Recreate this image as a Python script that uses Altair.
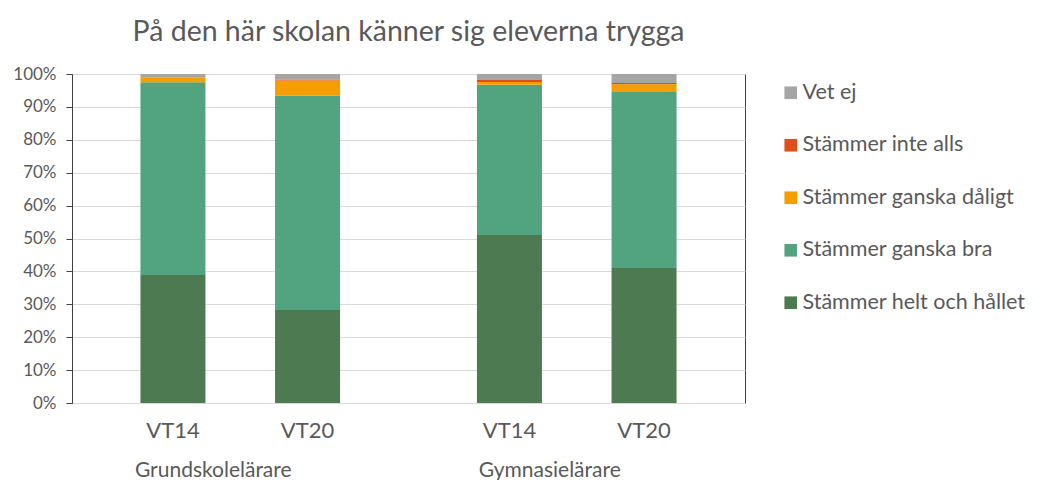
import altair as alt
import pandas as pd

# ---- data ----
responses = ["Stämmer helt och hållet", "Stämmer ganska bra", "Stämmer ganska dåligt",
             "Stämmer inte alls", "Vet ej"]
groups = ["Grundskolelärare", "Grundskolelärare", "Gymnasielärare", "Gymnasielärare"]
years = ["VT14", "VT20", "VT14", "VT20"]
helt = [38.9, 28.3, 51.1, 41.0]
bra = [58.6, 65.1, 45.6, 53.5]
daligt = [1.5, 4.6, 0.9, 2.4]
inte = [0.0, 0.3, 0.6, 0.4]
vetej = [1.0, 1.7, 1.8, 2.7]
colors = ["#4d7a51", "#52a37f", "#f59e00", "#e04f16", "#a5a5a5"]
yticks = [0, 10, 20, 30, 40, 50, 60, 70, 80, 90, 100]

series = [helt, bra, daligt, inte, vetej]
rows = []
for r, (resp, vals) in enumerate(zip(responses, series)):
    for g, y, v in zip(groups, years, vals):
        rows.append({"key": f"{g}|{y}", "svar": resp, "rank": r, "value": v})
df = pd.DataFrame(rows)

group_names = ["Grundskolelärare", "Gymnasielärare"]
gdf = pd.DataFrame({"key": group_names, "label": group_names})

# category slots (spacer slots carry no axis label)
domain = ["_a", "Grundskolelärare|VT14", "Grundskolelärare", "Grundskolelärare|VT20", "_b",
          "_c", "Gymnasielärare|VT14", "Gymnasielärare", "Gymnasielärare|VT20", "_d"]

FONT = "Lato"
GREY = "#595959"
W, H = 673, 329

xscale = alt.Scale(domain=domain, paddingInner=0.034, paddingOuter=0.017)

bars = alt.Chart(df).mark_bar().encode(
    x=alt.X("key:N", scale=xscale, sort=domain,
            axis=alt.Axis(title=None, labelAngle=0, ticks=False, domain=False, grid=False,
                          labelExpr="indexof(datum.value,'|')>0 ? split(datum.value,'|')[1] : ''",
                          labelFontSize=22, labelColor=GREY, labelFont=FONT, labelPadding=17)),
    y=alt.Y("value:Q", stack="zero",
            scale=alt.Scale(domain=[0, 100], nice=False),
            axis=alt.Axis(title=None, values=yticks, labelExpr="datum.value + '%'",
                          labelFontSize=17, labelColor=GREY, labelFont=FONT,
                          tickSize=6, tickColor="#404040", domainColor="#404040",
                          grid=True, gridColor="#d9d9d9", labelPadding=10)),
    color=alt.Color("svar:N",
                    scale=alt.Scale(domain=responses[::-1], range=colors[::-1]),
                    legend=alt.Legend(title=None, orient="none", legendX=708, legendY=8,
                                      symbolType="square", symbolSize=160,
                                      symbolStrokeWidth=0, labelFontSize=21.5,
                                      labelColor=GREY, labelFont=FONT, rowPadding=29.5,
                                      labelLimit=400, labelOffset=1)),
    order=alt.Order("rank:Q", sort="ascending"),
)

glabels = alt.Chart(gdf).mark_text(fontSize=21, font=FONT, color=GREY, dx=-27,
                                   baseline="middle").encode(
    x=alt.X("key:N", scale=xscale, sort=domain),
    y=alt.value(H + 68),
    text="label:N",
)

chart = alt.layer(bars, glabels).properties(
    width=W, height=H,
    title=alt.Title("På den här skolan känner sig eleverna trygga", fontSize=28.5,
                    font=FONT, color=GREY, fontWeight="normal", anchor="middle",
                    offset=19),
    autosize=alt.AutoSizeParams(type="none"),
    padding={"left": 64, "top": 66, "right": 287, "bottom": 77},
).configure_view(stroke="#404040", strokeWidth=1)

chart.save("out.html", embed_options={"renderer": "svg", "actions": False})
